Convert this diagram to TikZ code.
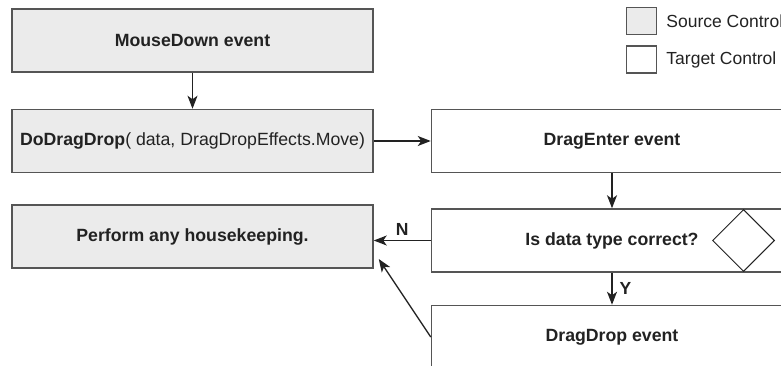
\documentclass[tikz,border=0pt]{standalone}
\usepackage{fontspec}
\setmainfont{Liberation Sans}
\usepackage{xcolor}
\usepackage{tikz}
\usetikzlibrary{arrows.meta,positioning,shapes.geometric}
\definecolor{sourcegray}{HTML}{EBEBEB}
\definecolor{edgegray}{HTML}{555555}
\definecolor{inkdark}{HTML}{222222}
\tikzset{
  srcbox/.style={draw=edgegray,line width=1.5pt,fill=sourcegray,minimum width=361pt,minimum height=63pt,inner sep=0pt,font=\fontsize{17.7}{21}\selectfont\bfseries,text=inkdark},
  tgtbox/.style={srcbox,fill=white},
  keybox/.style={draw=edgegray,line width=1.5pt,minimum width=30pt,minimum height=27pt,inner sep=0pt},
  keytext/.style={anchor=west,inner sep=0pt,font=\fontsize{17.5}{21}\selectfont,text=inkdark},
  flowarrow/.style={-{Stealth[length=13pt,width=10pt,inset=3.5pt]},draw=inkdark,line width=1.3pt},
  flowlabel/.style={font=\fontsize{17.5}{21}\selectfont\bfseries,text=inkdark,inner sep=1pt},
}
\begin{document}
\begin{tikzpicture}
        \useasboundingbox (0,0) rectangle (781pt,-366pt);
        \node[srcbox] (mouse) at (192.5pt,-40.5pt) {MouseDown event};
        \node[srcbox,below=36pt of mouse] (dodrag) {DoDragDrop\mdseries( data, DragDropEffects.Move)};
        \node[srcbox,below=31pt of dodrag] (keep) {Perform any housekeeping.};
        \node[tgtbox,right=57pt of dodrag] (enter) {DragEnter event};
        \node[tgtbox,below=35pt of enter] (check) {Is data type correct?};
        \node[tgtbox,below=32pt of check] (drop) {DragDrop event};
        \node[diamond,draw=inkdark,line width=1pt,aspect=1,minimum width=62pt,minimum height=62pt,inner sep=0pt] (choice) at ([xshift=131.5pt]check.center) {};
        % legend
        \node[keybox,fill=sourcegray] (srckey) at (641.5pt,-21pt) {};
        \node[keybox,fill=white,below=10pt of srckey] (tgtkey) {};
        \node[keytext,right=9pt of srckey] (srclbl) {Source Control};
        \node[keytext,right=9pt of tgtkey] (tgtlbl) {Target Control};
        \draw[flowarrow] (mouse)--(dodrag); \draw[flowarrow] (dodrag)--(enter);
        \draw[flowarrow] (enter)--(check);
        \draw[flowarrow] (check)--(drop) node[flowlabel,midway,right=6pt] {Y};
        \draw[flowarrow] (check.west)--(check.west -| keep.east) node[flowlabel,midway,above=3pt] {N};
        \draw[flowarrow] (drop.west)--([xshift=5pt,yshift=-22.5pt]keep.east);
      \end{tikzpicture}
\end{document}
